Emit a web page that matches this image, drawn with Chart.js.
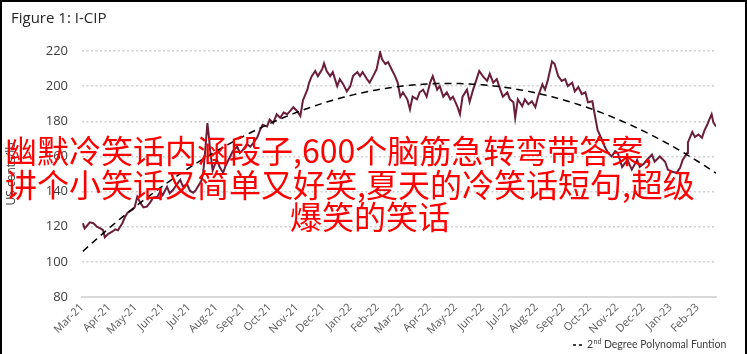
<!DOCTYPE html>
<html>
<head>
<meta charset="utf-8">
<script src="https://cdn.jsdelivr.net/npm/chart.js@4/dist/chart.umd.min.js"></script>
<style>
  body { margin: 0; background: #fff; }
  #wrap { position: relative; width: 747px; height: 354px; overflow: hidden; }
  #frame { position: absolute; left: 0; top: 0; width: 747px; height: 354px; box-sizing: border-box;
           border-left: 2px solid #000; border-right: 2px solid #000; border-top: 2px solid #000; pointer-events: none; }
  #title { position: absolute; left: 11px; top: 7px; font: 15px "Open Sans", sans-serif; color: #262626; }
  .wm { position: absolute; font: 32px "Noto Sans CJK SC", sans-serif; color: #ff0000; white-space: nowrap; line-height: 34px; }
</style>
</head>
<body>
<div id="wrap">
  <canvas id="chart" width="747" height="354"></canvas>
  <div id="title">Figure 1: I-CIP</div>
  <div class="wm" style="left:5px; top:132px;">幽默冷笑话内涵段子,600个脑筋急转弯带答案,</div>
  <div class="wm" style="left:5px; top:166px;">讲个小笑话又简单又好笑,夏天的冷笑话短句,超级</div>
  <div class="wm" style="left:290px; top:198px;">爆笑的笑话</div>
  <div id="frame"></div>
</div>
<script>
// I-CIP readings (US cents/lb); obsDay = days since 1 Mar 2021
const startDate = '2021-03-01';
const obsDay = [
  1, 3, 9, 13, 17, 21, 24, 26, 30, 34, 38, 41, 46, 49, 52, 57, 60, 63, 66, 70,
  74, 78, 81, 86, 89, 92, 97, 100, 104, 108, 112, 115, 120, 123, 127, 130, 132, 136, 138, 140,
  143, 145, 146, 149, 152, 154, 157, 161, 164, 169, 172, 177, 180, 184, 188, 192, 196, 200, 203, 206,
  211, 214, 218, 222, 226, 230, 234, 237, 241, 245, 249, 252, 257, 259, 262, 266, 269, 274, 276, 279,
  283, 286, 291, 294, 298, 302, 306, 309, 314, 317, 320, 325, 328, 332, 336, 340, 342, 346, 349, 354,
  357, 360, 363, 366, 371, 374, 377, 382, 385, 389, 393, 397, 400, 405, 408, 412, 416, 420, 423, 428,
  431, 434, 439, 442, 446, 450, 453, 457, 462, 465, 469, 473, 477, 480, 485, 488, 492, 494, 497, 502,
  505, 509, 513, 517, 520, 525, 528, 531, 536, 539, 543, 547, 551, 554, 559, 562, 566, 570, 574, 577,
  582, 585, 588, 593, 596, 600, 604, 608, 611, 616, 622, 627, 633, 636, 641, 644, 650, 653, 659, 665,
  668, 673, 678, 682, 685, 690, 691, 696, 699, 703, 707, 710, 713, 714, 718, 720, 723
];
const icipValues = [
  122, 119, 122.5, 122, 120, 119, 118, 114, 116, 117, 118.5, 118, 122, 125.5, 128, 129.6, 131, 137, 134, 131,
  131.5, 134, 136.5, 137, 140, 138, 142.7, 139, 141, 144, 146.7, 143, 144, 140.5, 139.3, 141, 142.7, 146, 150, 160,
  179, 170, 164, 152, 156, 158, 154, 150.7, 155, 160, 163, 165.6, 162, 164, 167, 165.6, 168, 171, 175, 178,
  177, 181, 179, 184, 182, 185, 184, 185.6, 188, 186, 183, 192, 198, 202, 205.7, 208.6, 205.7, 209.7, 213, 208.6,
  205.7, 208, 200, 204, 201, 197, 200, 205.7, 208, 205.7, 208, 204, 202, 205.7, 209.7, 219.4, 215.4, 212.6, 213.7, 208.6,
  205.7, 202, 194, 196.5, 192.5, 186.8, 194, 192.5, 196.5, 198, 194, 202, 205.7, 198, 200, 194, 196.5, 192.5, 194, 188.5,
  184, 194, 198, 191, 198, 204, 208.6, 205.7, 203, 207, 202, 204, 198, 194, 196.5, 192.5, 190.8, 182, 192.5, 188.5,
  192.5, 189.7, 191.4, 188, 194, 201, 198, 203, 214, 212.6, 205.7, 203, 204, 200, 202, 197, 199.5, 195.5, 196.5, 190.8,
  191.4, 183, 175, 169.6, 165.6, 162, 160, 163, 162, 154, 158, 152.5, 158, 154, 156, 158, 161, 157, 160, 157,
  152.5, 151.3, 150.7, 153.5, 158, 162, 168, 174, 171, 172.5, 170.7, 175, 178, 179.4, 184, 179.4, 177
];
const monthLabels = ['Mar-21','Apr-21','May-21','Jun-21','Jul-21','Aug-21','Sep-21','Oct-21','Nov-21','Dec-21',
  'Jan-22','Feb-22','Mar-22','Apr-22','May-22','Jun-22','Jul-22','Aug-22','Sep-22','Oct-22','Nov-22','Dec-22',
  'Jan-23','Feb-23'];
const monthNames = ['Jan','Feb','Mar','Apr','May','Jun','Jul','Aug','Sep','Oct','Nov','Dec'];
const yTicks = { min: 80, max: 220, step: 10 };

const DAY = 86400000;
const t0 = Date.parse(startDate + 'T00:00:00Z');
const lastDay = obsDay[obsDay.length - 1];

// month label -> days since start
function labelDay(lbl) {
  const [m, yy] = lbl.split('-');
  return Math.round((Date.UTC(2000 + parseInt(yy, 10), monthNames.indexOf(m), 1) - t0) / DAY);
}
const tickDays = monthLabels.map(labelDay);

const icipPoints = obsDay.map((d, i) => ({ x: d, y: icipValues[i] }));

// 2nd degree least-squares fit of the series
function polyFit2(pts) {
  const s = [0, 0, 0, 0, 0], r = [0, 0, 0];
  pts.forEach(p => {
    const t = p.x / lastDay;
    let tp = 1;
    for (let k = 0; k < 5; k++) { s[k] += tp; if (k < 3) r[k] += tp * p.y; tp *= t; }
  });
  const M = [[s[0], s[1], s[2], r[0]], [s[1], s[2], s[3], r[1]], [s[2], s[3], s[4], r[2]]];
  for (let i = 0; i < 3; i++) {
    for (let j = i + 1; j < 3; j++) {
      const f = M[j][i] / M[i][i];
      for (let k = i; k < 4; k++) M[j][k] -= f * M[i][k];
    }
  }
  const c = [0, 0, 0];
  for (let i = 2; i >= 0; i--) {
    let v = M[i][3];
    for (let k = i + 1; k < 3; k++) v -= M[i][k] * c[k];
    c[i] = v / M[i][i];
  }
  return c;
}
const coef = polyFit2(icipPoints);
const trendPoints = icipPoints.map(p => {
  const t = p.x / lastDay;
  return { x: p.x, y: coef[0] + coef[1] * t + coef[2] * t * t };
});

// legend drawn at the bottom right, with superscript "nd"
const legendPlugin = {
  id: 'polyLegend',
  afterDraw(chart) {
    const ctx = chart.ctx;
    const y = 345;
    ctx.save();
    ctx.strokeStyle = '#000';
    ctx.lineWidth = 1.5;
    ctx.setLineDash([3, 3]);
    ctx.beginPath();
    ctx.moveTo(573, y);
    ctx.lineTo(584, y);
    ctx.stroke();
    ctx.setLineDash([]);
    ctx.fillStyle = '#404040';
    ctx.textBaseline = 'middle';
    ctx.font = '10.5px Lato, sans-serif';
    let x = 587;
    ctx.fillText('2', x, y);
    x += ctx.measureText('2').width + 0.5;
    ctx.font = '7px Lato, sans-serif';
    ctx.fillText('nd', x, y - 3);
    x += ctx.measureText('nd').width + 2.5;
    ctx.font = '10.5px Lato, sans-serif';
    ctx.fillText('Degree Polynomal Funtion', x, y);
    ctx.restore();
  }
};

new Chart(document.getElementById('chart'), {
  type: 'line',
  data: {
    datasets: [
      {
        label: '2nd Degree Polynomal Funtion',
        data: trendPoints,
        borderColor: '#000',
        borderWidth: 1.5,
        borderDash: [7, 5],
        pointRadius: 0,
        tension: 0
      },
      {
        label: 'I-CIP',
        data: icipPoints,
        borderColor: '#6b1e3a',
        borderWidth: 2,
        pointRadius: 0,
        tension: 0
      }
    ]
  },
  options: {
    responsive: false,
    animation: false,
    layout: { padding: { left: 4, right: 31, top: 51, bottom: 0 } },
    plugins: {
      legend: { display: false },
      tooltip: { enabled: false },
      title: { display: false }
    },
    scales: {
      x: {
        type: 'linear',
        min: 0,
        max: lastDay,
        grid: { display: false, drawTicks: false },
        border: { display: true, color: '#d9d9d9', width: 2 },
        afterBuildTicks: scale => { scale.ticks = tickDays.map(v => ({ value: v })); },
        afterFit: scale => { scale.height = 57; },
        ticks: {
          autoSkip: false,
          minRotation: 45,
          maxRotation: 45,
          padding: 4,
          color: '#595959',
          font: { family: '"Open Sans", sans-serif', size: 11 },
          callback: v => monthLabels[tickDays.indexOf(v)]
        }
      },
      y: {
        min: yTicks.min,
        max: yTicks.max,
        afterFit: scale => { scale.width = 78; },
        grid: { color: '#cfcfcf', lineWidth: 1.5, drawTicks: false },
        border: { display: false, dash: [2, 2.5] },
        ticks: {
          stepSize: yTicks.step,
          padding: 14,
          color: '#404040',
          font: { family: '"Open Sans", sans-serif', size: 13 }
        },
        title: {
          display: true,
          text: 'US cents/lb',
          color: '#404040',
          padding: 0,
          font: { family: '"Open Sans", sans-serif', size: 12 }
        }
      }
    }
  },
  plugins: [legendPlugin]
});
</script>
</body>
</html>
